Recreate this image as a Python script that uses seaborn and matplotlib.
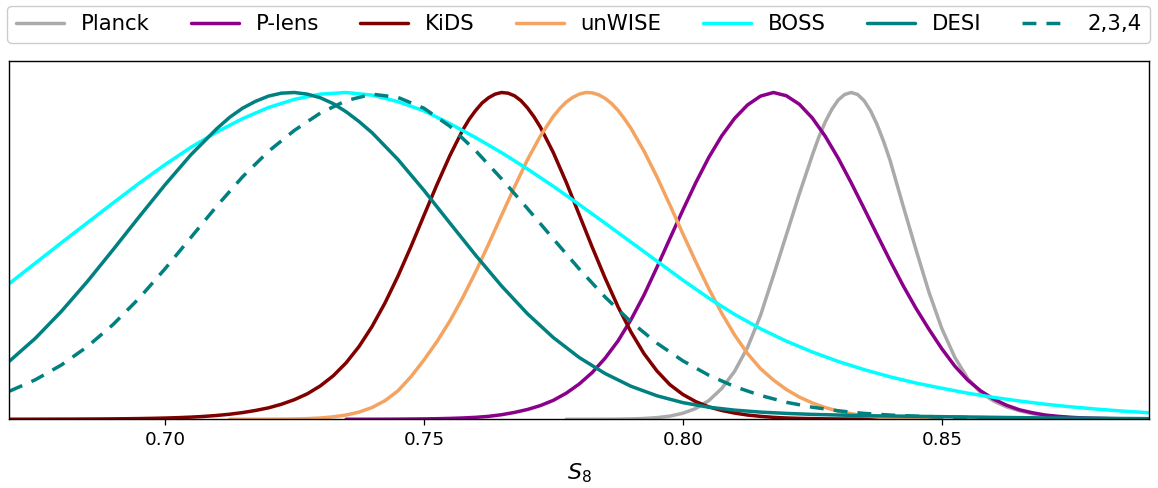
import numpy as np
import pandas as pd
import matplotlib
matplotlib.use("Agg")
import matplotlib.pyplot as plt
import seaborn as sns

# Normalised S8 posteriors. Each curve is sampled on piecewise-regular grids
# given as (start, stop, step) segments; the peaks use a finer step.
planck_grid = [(0.7775, 0.8225, 0.0025), (0.8250, 0.8400, 0.00125),
               (0.8425, 0.8800, 0.0025), (0.8850, 0.8900, 0.005)]
planck = [0.0, 0.0, 0.0001, 0.0002, 0.0005, 0.0011, 0.0024, 0.005, 0.0097, 0.0185,
          0.033, 0.057, 0.094, 0.147, 0.22, 0.318, 0.44, 0.565, 0.69,
          0.808, 0.863, 0.910, 0.948, 0.977, 0.994, 1.0, 0.994, 0.975, 0.944,
          0.902, 0.851, 0.793,
          0.655, 0.52, 0.39, 0.278, 0.19, 0.125, 0.082, 0.056, 0.038, 0.026,
          0.017, 0.011, 0.007, 0.0045, 0.003, 0.002, 0.0008, 0.0003]

plens_grid = [(0.7350, 0.8900, 0.0025)]
plens = [0.0001, 0.0001, 0.0002, 0.0003, 0.0005, 0.0008, 0.0012, 0.0018, 0.0027, 0.004,
         0.006, 0.009, 0.014, 0.021, 0.030, 0.042, 0.058, 0.08, 0.108, 0.143,
         0.187, 0.24, 0.305, 0.38, 0.465, 0.553, 0.64, 0.724, 0.801, 0.867,
         0.921, 0.962, 0.989, 1.0, 0.99, 0.964, 0.922, 0.866, 0.799, 0.724,
         0.645, 0.565, 0.486, 0.41, 0.34, 0.276, 0.216, 0.163, 0.12, 0.087,
         0.062, 0.043, 0.029, 0.02, 0.013, 0.009, 0.006, 0.004, 0.003, 0.002,
         0.0015, 0.001, 0.001]

kids_grid = [(0.6700, 0.7550, 0.0025), (0.7575, 0.7725, 0.00125), (0.7750, 0.8375, 0.0025)]
kids = [0.0002, 0.0002, 0.0003, 0.0004, 0.0005, 0.0006, 0.0008, 0.001, 0.0013, 0.0017,
        0.0022, 0.0029, 0.0038, 0.005, 0.0066, 0.0088, 0.0117, 0.0155, 0.0205, 0.027,
        0.035, 0.046, 0.06, 0.078, 0.102, 0.133, 0.173, 0.223, 0.284, 0.356,
        0.438, 0.528, 0.623, 0.717, 0.806,
        0.885, 0.918, 0.945, 0.968, 0.984, 0.995, 1.0, 0.998, 0.990, 0.975,
        0.953, 0.926, 0.894,
        0.816, 0.725, 0.626, 0.527, 0.432, 0.344, 0.267, 0.201, 0.148, 0.106,
        0.076, 0.054, 0.038, 0.027, 0.019, 0.013, 0.009, 0.006, 0.004, 0.0028,
        0.002, 0.0014, 0.001, 0.0007, 0.0005, 0.0003]

unwise_grid = [(0.7125, 0.7725, 0.0025), (0.7750, 0.7900, 0.00125), (0.7925, 0.8500, 0.0025)]
unwise = [0.0, 0.0001, 0.0002, 0.0003, 0.0005, 0.001, 0.002, 0.004, 0.0075, 0.013,
          0.022, 0.036, 0.057, 0.087, 0.13, 0.181, 0.237, 0.30, 0.372, 0.451,
          0.536, 0.624, 0.711, 0.794, 0.867,
          0.927, 0.951, 0.971, 0.985, 0.995, 1.0, 0.999, 0.993, 0.982, 0.966,
          0.945, 0.919, 0.89,
          0.821, 0.742, 0.656, 0.568, 0.482, 0.40, 0.325, 0.258, 0.201, 0.155,
          0.12, 0.091, 0.068, 0.05, 0.036, 0.025, 0.017, 0.011, 0.007, 0.0045,
          0.003, 0.002, 0.001, 0.0005]

boss_grid = [(0.670, 0.890, 0.005)]
boss = [0.416, 0.478, 0.540, 0.601, 0.662, 0.722, 0.779, 0.832, 0.879, 0.920,
        0.954, 0.979, 0.995, 1.0, 0.992, 0.972, 0.944, 0.905, 0.862, 0.816,
        0.766, 0.713, 0.657, 0.600, 0.542, 0.484, 0.426, 0.371, 0.321, 0.277,
        0.239, 0.206, 0.177, 0.152, 0.130, 0.111, 0.095, 0.080, 0.067, 0.056,
        0.046, 0.038, 0.031, 0.025, 0.020]

desi_grid = [(0.670, 0.710, 0.005), (0.7125, 0.7375, 0.0025), (0.740, 0.890, 0.005)]
desi = [0.178, 0.248, 0.330, 0.421, 0.519, 0.619, 0.717, 0.809, 0.889,
        0.924, 0.952, 0.973, 0.989, 0.998, 1.0, 0.995, 0.984, 0.966, 0.941, 0.911,
        0.877, 0.795, 0.701, 0.601, 0.502, 0.408, 0.323, 0.250, 0.189, 0.140,
        0.101, 0.072, 0.051, 0.037, 0.028, 0.022, 0.018, 0.015, 0.013, 0.011,
        0.010, 0.009, 0.008, 0.007, 0.006, 0.005, 0.004, 0.0035, 0.003, 0.0025,
        0.002]

desi234_grid = [(0.670, 0.890, 0.005)]
desi_234 = [0.086, 0.121, 0.166, 0.222, 0.290, 0.370, 0.460, 0.556, 0.652, 0.742,
            0.820, 0.884, 0.937, 0.975, 0.995, 0.985, 0.952, 0.897, 0.822, 0.736,
            0.645, 0.552, 0.460, 0.374, 0.298, 0.233, 0.179, 0.135, 0.100, 0.073,
            0.052, 0.037, 0.026, 0.018, 0.013, 0.0095, 0.007, 0.0055, 0.0045, 0.0035,
            0.003, 0.0025, 0.002, 0.0015, 0.001]

labels = ["Planck", "P-lens", "KiDS", "unWISE", "BOSS", "DESI", "2,3,4"]
tick_values = [0.70, 0.75, 0.80, 0.85]
tick_labels = ["0.70", "0.75", "0.80", "0.85"]


def build_grid(segments):
    parts = [np.arange(a, b + step / 2, step) for a, b, step in segments]
    return np.round(np.concatenate(parts), 6)


series = [
    (labels[0], planck_grid, planck, "#aaaaaa", "-"),
    (labels[1], plens_grid, plens, "#8b008b", "-"),
    (labels[2], kids_grid, kids, "#800000", "-"),
    (labels[3], unwise_grid, unwise, "#f4a460", "-"),
    (labels[4], boss_grid, boss, "#00ffff", "-"),
    (labels[5], desi_grid, desi, "#008080", "-"),
    (labels[6], desi234_grid, desi_234, "#008080", (0, (4, 2.9))),
]

sns.set_theme(style="white")
plt.rcParams["font.family"] = ["DejaVu Sans"]
plt.rcParams["mathtext.fontset"] = "dejavusans"
plt.rcParams["text.color"] = "black"
plt.rcParams["axes.labelcolor"] = "black"
plt.rcParams["xtick.color"] = "black"

fig = plt.figure(figsize=(11.58, 4.88), dpi=100)
ax = fig.add_axes([0.0082, 0.1408, 0.9840, 0.7342])

for name, segs, vals, color, ls in series:
    xs = build_grid(segs)
    assert len(xs) == len(vals), name
    df = pd.DataFrame({"S8": xs, "P": vals})
    sns.lineplot(data=df, x="S8", y="P", ax=ax, color=color, linewidth=2.5,
                 linestyle=ls, label=name, sort=True, estimator=None)

ax.set_xlim(0.67, 0.89)
ax.set_ylim(0, 1.0964)
ax.set_yticks([])
ax.set_ylabel("")
ax.set_xticks(tick_values)
ax.set_xticklabels(tick_labels)
ax.tick_params(axis="x", which="major", bottom=True, direction="out", length=4.5,
               width=0.9, color="black", labelsize=13.2, pad=4, labelcolor="black")
for sp in ax.spines.values():
    sp.set_visible(True)
    sp.set_color("black")
    sp.set_linewidth(1.0)
ax.set_xlabel(r"$S_8$", fontsize=16, labelpad=9, color="black")

ax.legend(loc="lower left", bbox_to_anchor=(-0.0019, 1.0511, 1.0028, 0.1),
          mode="expand", ncol=7, borderaxespad=0, fontsize=15.3,
          handlelength=2.25, handletextpad=0.8, frameon=True, fancybox=True,
          edgecolor="#cccccc", framealpha=1.0, labelcolor="black")

fig.savefig("out.png", dpi=100)
